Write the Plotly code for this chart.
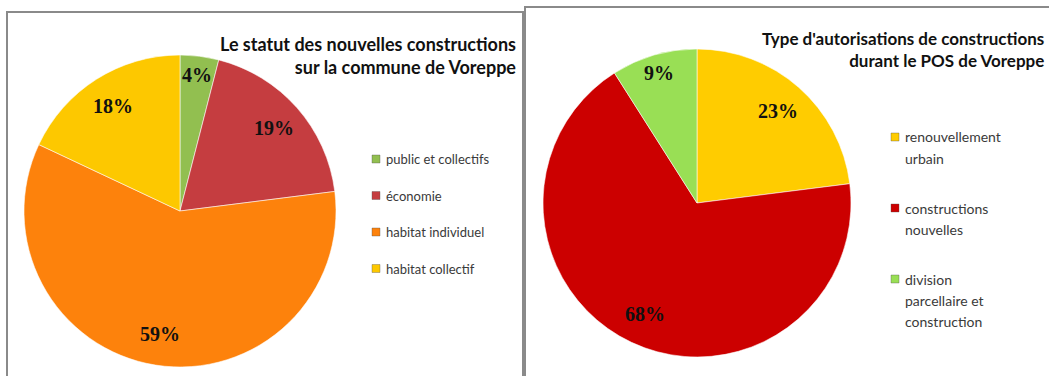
import math
import textwrap
import plotly.graph_objects as go

W, H = 1049, 376

# Left chart: status of new constructions
statut_labels = ["public et collectifs", "économie", "habitat individuel", "habitat collectif"]
statut_values = [4, 19, 59, 18]
statut_colors = ["#92bf50", "#c53d40", "#fd820c", "#fdc800"]
statut_title = "Le statut des nouvelles constructions<br>sur la commune de Voreppe"

# Right chart: type of building permits
autor_labels = ["renouvellement urbain", "constructions nouvelles",
                "division parcellaire et construction"]
autor_values = [23, 68, 9]
autor_colors = ["#ffcc00", "#cc0000", "#99df55"]
autor_title = "Type d'autorisations de constructions<br>durant le POS de Voreppe"


def px(x):
    return x / W


def py(y):
    return 1 - y / H


charts = [
    dict(labels=statut_labels, values=statut_values, colors=statut_colors,
         title=statut_title, cx=180, cy=211, r=156,
         title_right=518, title_top=31, title_size=18, frame=(7, 12, 523, H + 20),
         leg_x=372, leg_y=159, leg_step=36.5, leg_size=13, wrap=22, line_h=21),
    dict(labels=autor_labels, values=autor_values, colors=autor_colors,
         title=autor_title, cx=697, cy=203, r=154,
         title_right=1046, title_top=26, title_size=17, frame=(525, 7, W + 20, H + 20),
         leg_x=891, leg_y=137, leg_step=71, leg_size=14, wrap=15, line_h=21),
]

fig = go.Figure()
shapes = []
annotations = []

for ch in charts:
    cx, cy, r = ch["cx"], ch["cy"], ch["r"]
    fig.add_trace(go.Pie(
        labels=ch["labels"], values=ch["values"],
        marker=dict(colors=ch["colors"], line=dict(color="rgba(255,255,255,0.55)", width=1)),
        sort=False, direction="clockwise", rotation=0,
        textinfo="none", hoverinfo="label+percent", showlegend=False,
        domain=dict(x=[px(cx - r), px(cx + r)], y=[py(cy + r), py(cy - r)]),
    ))

    # percentage labels placed along each slice's mid-angle
    total = sum(ch["values"])
    cum = 0
    for v in ch["values"]:
        frac = v / total
        theta = 2 * math.pi * (cum + frac / 2)
        k = 0.88 if frac < 0.1 else 0.8
        lx = cx + k * r * math.sin(theta)
        ly = cy - k * r * math.cos(theta)
        annotations.append(dict(
            x=px(lx), y=py(ly), xref="paper", yref="paper",
            text=f"<b>{round(100 * frac)}%</b>", showarrow=False,
            xanchor="center", yanchor="middle",
            font=dict(family="Liberation Serif", size=20, color="#111111"),
        ))
        cum += frac

    # title
    annotations.append(dict(
        x=px(ch["title_right"]), y=py(ch["title_top"]), xref="paper", yref="paper",
        text=f"<b>{ch['title']}</b>", showarrow=False, align="right",
        xanchor="right", yanchor="top",
        font=dict(family="Lato", size=ch["title_size"], color="#111111"),
    ))

    # legend: colour squares and wrapped labels
    for i, (lab, col) in enumerate(zip(ch["labels"], ch["colors"])):
        y0 = ch["leg_y"] + i * ch["leg_step"]
        shapes.append(dict(
            type="rect", xref="paper", yref="paper",
            x0=px(ch["leg_x"]), x1=px(ch["leg_x"] + 8),
            y0=py(y0 - 4), y1=py(y0 + 4),
            fillcolor=col, line=dict(color="rgba(80,80,80,0.6)", width=0.6),
        ))
        for j, line in enumerate(textwrap.wrap(lab, ch["wrap"])):
            annotations.append(dict(
                x=px(ch["leg_x"] + 12), y=py(y0 + j * ch["line_h"]),
                xref="paper", yref="paper", text=line, showarrow=False,
                xanchor="left", yanchor="middle",
                font=dict(family="Lato", size=ch["leg_size"], color="#3a3a3a"),
            ))

    # chart frame
    x0, y0, x1, y1 = ch["frame"]
    shapes.append(dict(
        type="rect", xref="paper", yref="paper",
        x0=px(x0), x1=px(x1), y0=py(y1), y1=py(y0),
        line=dict(color="#8a8a8a", width=2), fillcolor="rgba(0,0,0,0)",
    ))

fig.update_layout(
    width=W, height=H, autosize=False,
    margin=dict(l=0, r=0, t=0, b=0, autoexpand=False),
    paper_bgcolor="white", plot_bgcolor="white",
    shapes=shapes, annotations=annotations,
)

fig.write_html("out.html")
